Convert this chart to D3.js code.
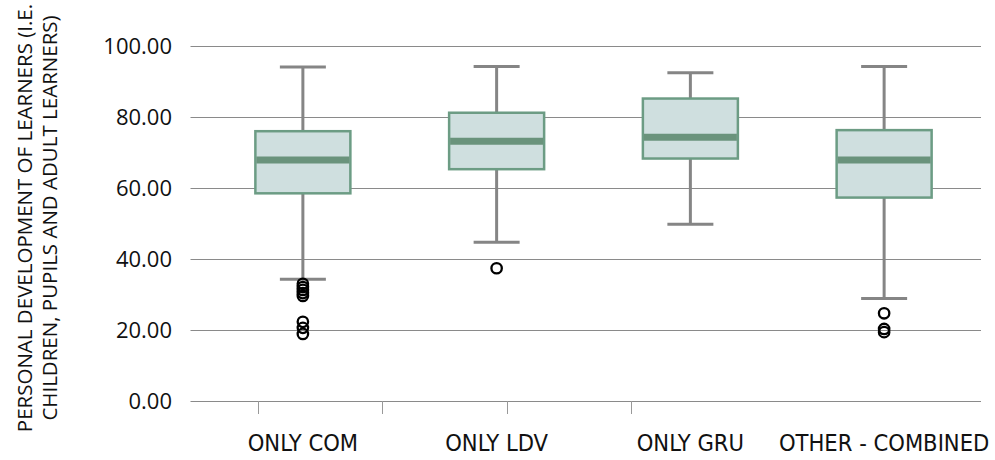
<!DOCTYPE html>
<html><head><meta charset="utf-8">
<script src="https://cdn.jsdelivr.net/npm/d3@7"></script>
<style>body{margin:0;background:#fff;}svg{display:block;}</style>
</head><body>
<script>
const categories = ["ONLY COM", "ONLY LDV", "ONLY GRU", "OTHER - COMBINED"];
const whiskerLow  = [34.3, 44.7, 49.8, 28.9];
const q1          = [58.5, 65.3, 68.3, 57.3];
const medians     = [67.9, 73.2, 74.3, 67.9];
const q3          = [76.0, 81.2, 85.2, 76.3];
const whiskerHigh = [94.1, 94.2, 92.5, 94.2];
const outliers = [
  [33.0, 32.1, 31.3, 30.4, 29.6, 22.3, 20.6, 18.9],
  [37.4],
  [],
  [24.7, 20.3, 19.4]
];
const yTicks = [0, 20, 40, 60, 80, 100];
const yTitle = ["PERSONAL DEVELOPMENT OF LEARNERS (I.E.", "CHILDREN, PUPILS AND ADULT LEARNERS)"];

const W = 995, H = 460;
const svg = d3.select("body").append("svg").attr("width", W).attr("height", H);

const y = d3.scaleLinear().domain([0, 100]).range([401, 46]);
const x = d3.scalePoint().domain(categories).range([206, 981]).padding(0.5);
const tickScale = d3.scalePoint().domain(categories).range([258, 631]);
const boxW = 95, capW = 46;

// grid
svg.append("g").selectAll("line").data(yTicks).join("line")
  .attr("x1", 190.5).attr("x2", 981)
  .attr("y1", d => Math.round(y(d)) + 0.5).attr("y2", d => Math.round(y(d)) + 0.5)
  .attr("stroke", "#8a8a8a").attr("stroke-width", 1);

// y labels
svg.append("g").selectAll("text").data(yTicks).join("text")
  .attr("x", 172).attr("y", d => y(d)).attr("dy", "0.36em")
  .attr("text-anchor", "end")
  .attr("font-family", "'Open Sans', 'Noto Sans', sans-serif")
  .attr("font-size", 22).attr("fill", "#111")
  .text(d => d3.format(".2f")(d));

// x ticks (below baseline)
svg.append("g").selectAll("line").data(categories).join("line")
  .attr("x1", d => Math.round(tickScale(d)) + 0.5).attr("x2", d => Math.round(tickScale(d)) + 0.5)
  .attr("y1", 401).attr("y2", 414)
  .attr("stroke", "#999").attr("stroke-width", 1);

// x labels
svg.append("g").selectAll("text").data(categories).join("text")
  .attr("x", d => x(d)).attr("y", 451)
  .attr("text-anchor", "middle")
  .attr("font-family", "'Liberation Sans Narrow', 'DejaVu Sans Condensed', sans-serif")
  .attr("font-size", 23.5).attr("fill", "#111")
  .text(d => d);

// y title
const yt = svg.append("text")
  .attr("transform", "translate(0,218) rotate(-90)")
  .attr("text-anchor", "middle")
  .attr("font-family", "'Open Sans', 'Noto Sans', sans-serif")
  .attr("font-size", 20.5).attr("fill", "#111");
yt.selectAll("tspan").data(yTitle).join("tspan")
  .attr("x", 0).attr("y", (d, i) => 32 + i * 25)
  .text(d => d);

// boxes
const data = categories.map((c, i) => ({
  c, lo: whiskerLow[i], q1: q1[i], med: medians[i], q3: q3[i], hi: whiskerHigh[i], out: outliers[i]
}));
const g = svg.append("g").selectAll("g").data(data).join("g");

g.append("line").attr("x1", d => x(d.c)).attr("x2", d => x(d.c))
  .attr("y1", d => y(d.hi)).attr("y2", d => y(d.lo))
  .attr("stroke", "#858585").attr("stroke-width", 3);
g.append("line").attr("x1", d => x(d.c) - capW / 2).attr("x2", d => x(d.c) + capW / 2)
  .attr("y1", d => y(d.hi)).attr("y2", d => y(d.hi))
  .attr("stroke", "#858585").attr("stroke-width", 3);
g.append("line").attr("x1", d => x(d.c) - capW / 2).attr("x2", d => x(d.c) + capW / 2)
  .attr("y1", d => y(d.lo)).attr("y2", d => y(d.lo))
  .attr("stroke", "#858585").attr("stroke-width", 3);
g.append("rect")
  .attr("x", d => x(d.c) - boxW / 2).attr("width", boxW)
  .attr("y", d => y(d.q3)).attr("height", d => y(d.q1) - y(d.q3))
  .attr("fill", "#cfdfdf").attr("stroke", "#6c9c84").attr("stroke-width", 2.5);
g.append("line").attr("x1", d => x(d.c) - boxW / 2 + 1).attr("x2", d => x(d.c) + boxW / 2 - 1)
  .attr("y1", d => y(d.med)).attr("y2", d => y(d.med))
  .attr("stroke", "#6a937c").attr("stroke-width", 7);

g.selectAll("circle").data(d => d.out.map(v => ({ c: d.c, v }))).join("circle")
  .attr("cx", d => x(d.c)).attr("cy", d => y(d.v)).attr("r", 5.2)
  .attr("fill", "none").attr("stroke", "#000").attr("stroke-width", 2.3);
</script>
</body></html>
